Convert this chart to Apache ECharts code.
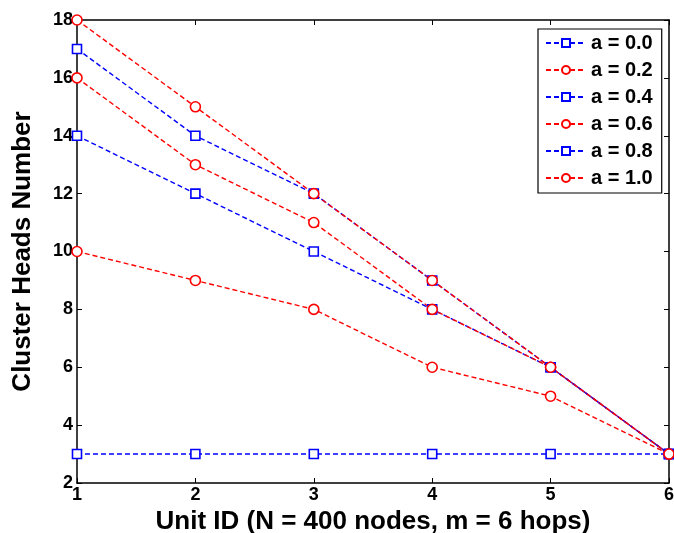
<!DOCTYPE html>
<html>
<head>
<meta charset="utf-8">
<script src="https://cdn.jsdelivr.net/npm/echarts@6/dist/echarts.min.js"></script>
<style>
html,body{margin:0;padding:0;background:#fff;}
#chart{width:674px;height:533px;}
</style>
</head>
<body>
<div id="chart"></div>
<script>
// Unit IDs along the x axis
const unitIds = [1, 2, 3, 4, 5, 6];
// Cluster head counts per weighting factor a
const a00 = [3, 3, 3, 3, 3, 3];
const a02 = [10, 9, 8, 6, 5, 3];
const a04 = [14, 12, 10, 8, 6, 3];
const a06 = [16, 13, 11, 8, 6, 3];
const a08 = [17, 14, 12, 9, 6, 3];
const a10 = [18, 15, 12, 9, 6, 3];
const seriesNames = ['a = 0.0', 'a = 0.2', 'a = 0.4', 'a = 0.6', 'a = 0.8', 'a = 1.0'];
const seriesValues = [a00, a02, a04, a06, a08, a10];

const FONT = '"Liberation Sans", Arial, Helvetica, sans-serif';

function makeSeries(name, values, idx) {
  const blue = idx % 2 === 0;
  const color = blue ? '#0000ff' : '#ff0000';
  return {
    name: name,
    type: 'line',
    data: values.map((v, i) => [unitIds[i], v]),
    clip: false,
    symbol: blue ? 'rect' : 'circle',
    symbolSize: blue ? 9 : 10,
    showAllSymbol: true,
    itemStyle: { color: '#fff', borderColor: color, borderWidth: 1.6 },
    lineStyle: { color: color, width: 1.4, type: [5, 3] },
    emphasis: { disabled: true },
    animation: false
  };
}

const chart = echarts.init(document.getElementById('chart'));
const axisLine = { show: true, lineStyle: { color: '#000', width: 1.5 } };
const tick = { show: true, inside: true, length: 5, lineStyle: { color: '#000', width: 1 } };
chart.setOption({
  backgroundColor: '#fff',
  animation: false,
  grid: { left: 77, right: 5, top: 20, bottom: 50, containLabel: false, outerBoundsMode: 'none' },
  legend: {
    orient: 'vertical',
    left: 538,
    top: 29,
    width: 125,
    padding: [4, 9, 5, 7],
    itemGap: 7,
    itemWidth: 40,
    itemHeight: 10,
    borderColor: '#000',
    borderWidth: 1.2,
    backgroundColor: '#fff',
    selectedMode: false,
    textStyle: { fontFamily: FONT, fontWeight: 'bold', fontSize: 20, color: '#000' },
    data: seriesNames
  },
  xAxis: [
    {
      type: 'value', min: 1, max: 6, interval: 1,
      name: 'Unit ID (N = 400 nodes, m = 6 hops)',
      nameLocation: 'middle', nameGap: 19,
      nameTextStyle: { fontFamily: FONT, fontWeight: 'bold', fontSize: 26, color: '#000' },
      axisLine: axisLine, axisTick: tick, splitLine: { show: false },
      axisLabel: { fontFamily: FONT, fontWeight: 'bold', fontSize: 18, color: '#000', margin: 3 }
    },
    {
      type: 'value', min: 1, max: 6, interval: 1, position: 'top',
      axisLine: axisLine, axisTick: tick, splitLine: { show: false }, axisLabel: { show: false }
    }
  ],
  yAxis: [
    {
      type: 'value', min: 2, max: 18, interval: 2,
      name: 'Cluster Heads Number',
      nameLocation: 'middle', nameGap: 41,
      nameTextStyle: { fontFamily: FONT, fontWeight: 'bold', fontSize: 26, color: '#000' },
      axisLine: axisLine, axisTick: tick, splitLine: { show: false },
      axisLabel: { fontFamily: FONT, fontWeight: 'bold', fontSize: 18, color: '#000', margin: 4 }
    },
    {
      type: 'value', min: 2, max: 18, interval: 2, position: 'right',
      axisLine: axisLine, axisTick: tick, splitLine: { show: false }, axisLabel: { show: false }
    }
  ],
  series: seriesValues.map((v, i) => makeSeries(seriesNames[i], v, i))
});
</script>
</body>
</html>
